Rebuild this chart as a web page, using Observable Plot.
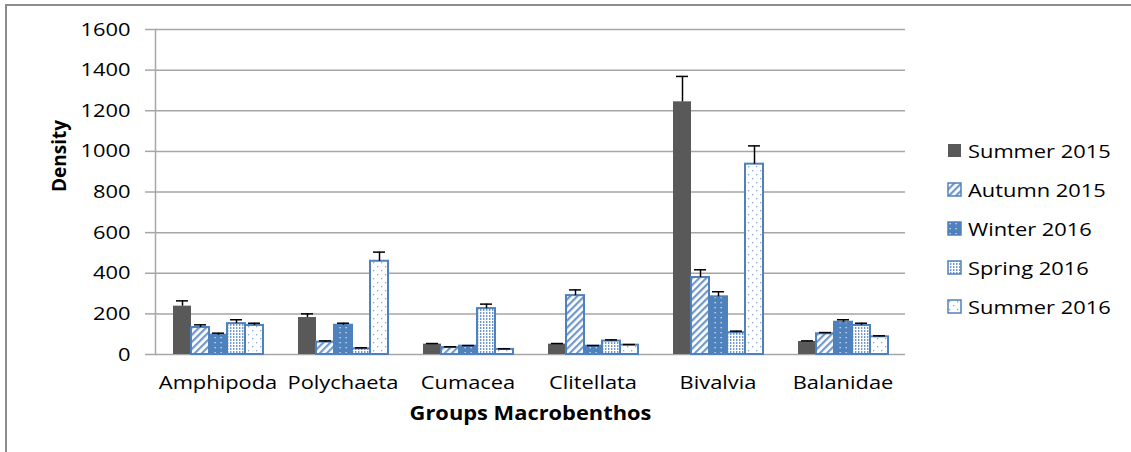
<!DOCTYPE html>
<html>
<head>
<meta charset="utf-8">
<script src="https://cdn.jsdelivr.net/npm/d3@7"></script>
<script src="https://cdn.jsdelivr.net/npm/@observablehq/plot@0.6"></script>
<style>
  html, body { margin: 0; padding: 0; background: #fff; }
  #wrap { position: relative; width: 1131px; height: 452px; overflow: hidden; font-family: "Open Sans", sans-serif; }
  #border { position: absolute; left: 5px; top: 4px; width: 1300px; height: 600px; border: 2px solid #8c8c8c; box-sizing: border-box; }
  #chart { position: absolute; left: 0; top: 0; }
  #legend { position: absolute; left: 947px; top: 131px; }
  .item { display: flex; align-items: center; height: 39px; }
  .item svg { flex: none; margin-right: 6px; }
  .item span { display: inline-block; font-size: 19px; color: #000; white-space: nowrap; transform: scaleX(1.15); transform-origin: left center; }
</style>
</head>
<body>
<svg width="0" height="0" style="position:absolute">
  <defs>
    <pattern id="pAut" patternUnits="userSpaceOnUse" width="5" height="5" patternTransform="rotate(45)">
      <rect width="5" height="5" fill="#ffffff"/>
      <rect width="2.2" height="5" fill="#7098cd"/>
    </pattern>
    <pattern id="pWin" patternUnits="userSpaceOnUse" width="6" height="5">
      <rect width="6" height="5" fill="#4f81bd"/>
      <rect x="2.5" y="2" width="1.3" height="1.3" fill="#d6e2f1"/>
    </pattern>
    <pattern id="pSpr" patternUnits="userSpaceOnUse" width="3" height="3">
      <rect width="3" height="3" fill="#ffffff"/>
      <rect x="0" y="0" width="1.4" height="2" fill="#6f97cc"/>
    </pattern>
    <pattern id="pSum" patternUnits="userSpaceOnUse" width="8" height="8">
      <rect width="8" height="8" fill="#ffffff"/>
      <rect x="2" y="2" width="1.3" height="1.3" fill="#86a7d5"/>
      <rect x="6" y="6" width="1.3" height="1.3" fill="#86a7d5"/>
    </pattern>
  </defs>
</svg>
<div id="wrap">
  <div id="border"></div>
  <div id="chart"></div>
  <div id="legend"></div>
</div>
<script>
// ---- data ----
const groups = ["Amphipoda", "Polychaeta", "Cumacea", "Clitellata", "Bivalvia", "Balanidae"];
const seasons = ["Summer 2015", "Autumn 2015", "Winter 2016", "Spring 2016", "Summer 2016"];

const summer2015 = [238, 182, 51, 51, 1244, 64];
const autumn2015 = [133, 61, 34, 290, 379, 102];
const winter2016 = [95, 144, 41, 41, 284, 159];
const spring2016 = [152, 28, 226, 66, 107, 143];
const summer2016 = [143, 459, 25, 46, 937, 87];

const summer2015Err = [26, 18, 3, 3, 125, 3];
const autumn2015Err = [13, 6, 4, 28, 38, 6];
const winter2016Err = [10, 10, 3, 3, 25, 12];
const spring2016Err = [19, 5, 22, 6, 8, 11];
const summer2016Err = [11, 45, 3, 3, 90, 5];

const yTicks = [0, 200, 400, 600, 800, 1000, 1200, 1400, 1600];

// ---- styles ----
const fills = ["#595959", "url(#pAut)", "url(#pWin)", "url(#pSpr)", "url(#pSum)"];
const outline = "#4f81bd";

const valueSets = [summer2015, autumn2015, winter2016, spring2016, summer2016];
const errSets = [summer2015Err, autumn2015Err, winter2016Err, spring2016Err, summer2016Err];

const data = [];
groups.forEach((g, gi) => {
  seasons.forEach((s, si) => {
    data.push({group: g, season: s, value: valueSets[si][gi], err: errSets[si][gi]});
  });
});
const outlined = data.filter(d => d.season !== "Summer 2015");

const chart = Plot.plot({
  width: 1131,
  height: 452,
  marginLeft: 153,
  marginRight: 224,
  marginTop: 29,
  marginBottom: 98,
  style: {fontFamily: "Open Sans", fontSize: "19px", color: "#000", background: "transparent", overflow: "visible"},
  fx: {domain: groups, padding: 0, label: null},
  x: {domain: seasons, paddingInner: 0, paddingOuter: 0.79, axis: null},
  y: {domain: [0, 1600]},
  color: {domain: seasons, range: fills},
  marks: [
    Plot.gridY(yTicks, {stroke: "#a6a6a6", strokeOpacity: 1, strokeWidth: 1.5}),
    Plot.axisY(yTicks, {tickSize: 10, tickPadding: 15, tickFormat: d => String(d), stroke: "#a6a6a6", strokeOpacity: 1, strokeWidth: 1.5, label: null, fill: "#000"}),
    Plot.frame({anchor: "left", facetAnchor: "left", stroke: "#a6a6a6", strokeWidth: 1.5}),
    Plot.axisFx({anchor: "bottom", tickSize: 0, tickPadding: 21, label: null, fill: "#000"}),
    Plot.barY(data, {fx: "group", x: "season", y: "value", fill: "season", inset: 0}),
    Plot.barY(outlined, {fx: "group", x: "season", y: "value", fill: "none", stroke: outline, strokeWidth: 2, inset: 0}),
    Plot.ruleX(data, {fx: "group", x: "season", y1: "value", y2: d => d.value + d.err, stroke: "#000", strokeWidth: 1.5}),
    Plot.tickY(data, {fx: "group", x: "season", y: d => d.value + d.err, insetLeft: 3, insetRight: 3, stroke: "#000", strokeWidth: 1.5}),
    Plot.text(["Density"], {facet: "super", text: d => d, frameAnchor: "left", dx: -96, rotate: -90, fontWeight: "bold", fontSize: 19}),
    Plot.text(["Groups Macrobenthos"], {facet: "super", text: d => d, frameAnchor: "bottom", dy: 65, fontWeight: "bold", fontSize: 19})
  ]
});
document.getElementById("chart").appendChild(chart);

// horizontal widening of the (originally stretched) lettering
chart.querySelectorAll("text").forEach(t => {
  if ((t.getAttribute("transform") || "").includes("rotate")) return;
  const L = t.getComputedTextLength();
  if (L > 0) {
    t.setAttribute("textLength", (L * 1.15).toFixed(1));
    t.setAttribute("lengthAdjust", "spacingAndGlyphs");
  }
});

// legend
const legend = document.getElementById("legend");
seasons.forEach((s, i) => {
  const item = document.createElement("div");
  item.className = "item";
  const stroke = i === 0 ? "none" : outline;
  item.innerHTML = `<svg width="15" height="15"><rect x="1" y="1" width="13" height="13" fill="${fills[i]}" stroke="${stroke}" stroke-width="1.5"/></svg><span>${s}</span>`;
  legend.appendChild(item);
});
</script>
</body>
</html>
